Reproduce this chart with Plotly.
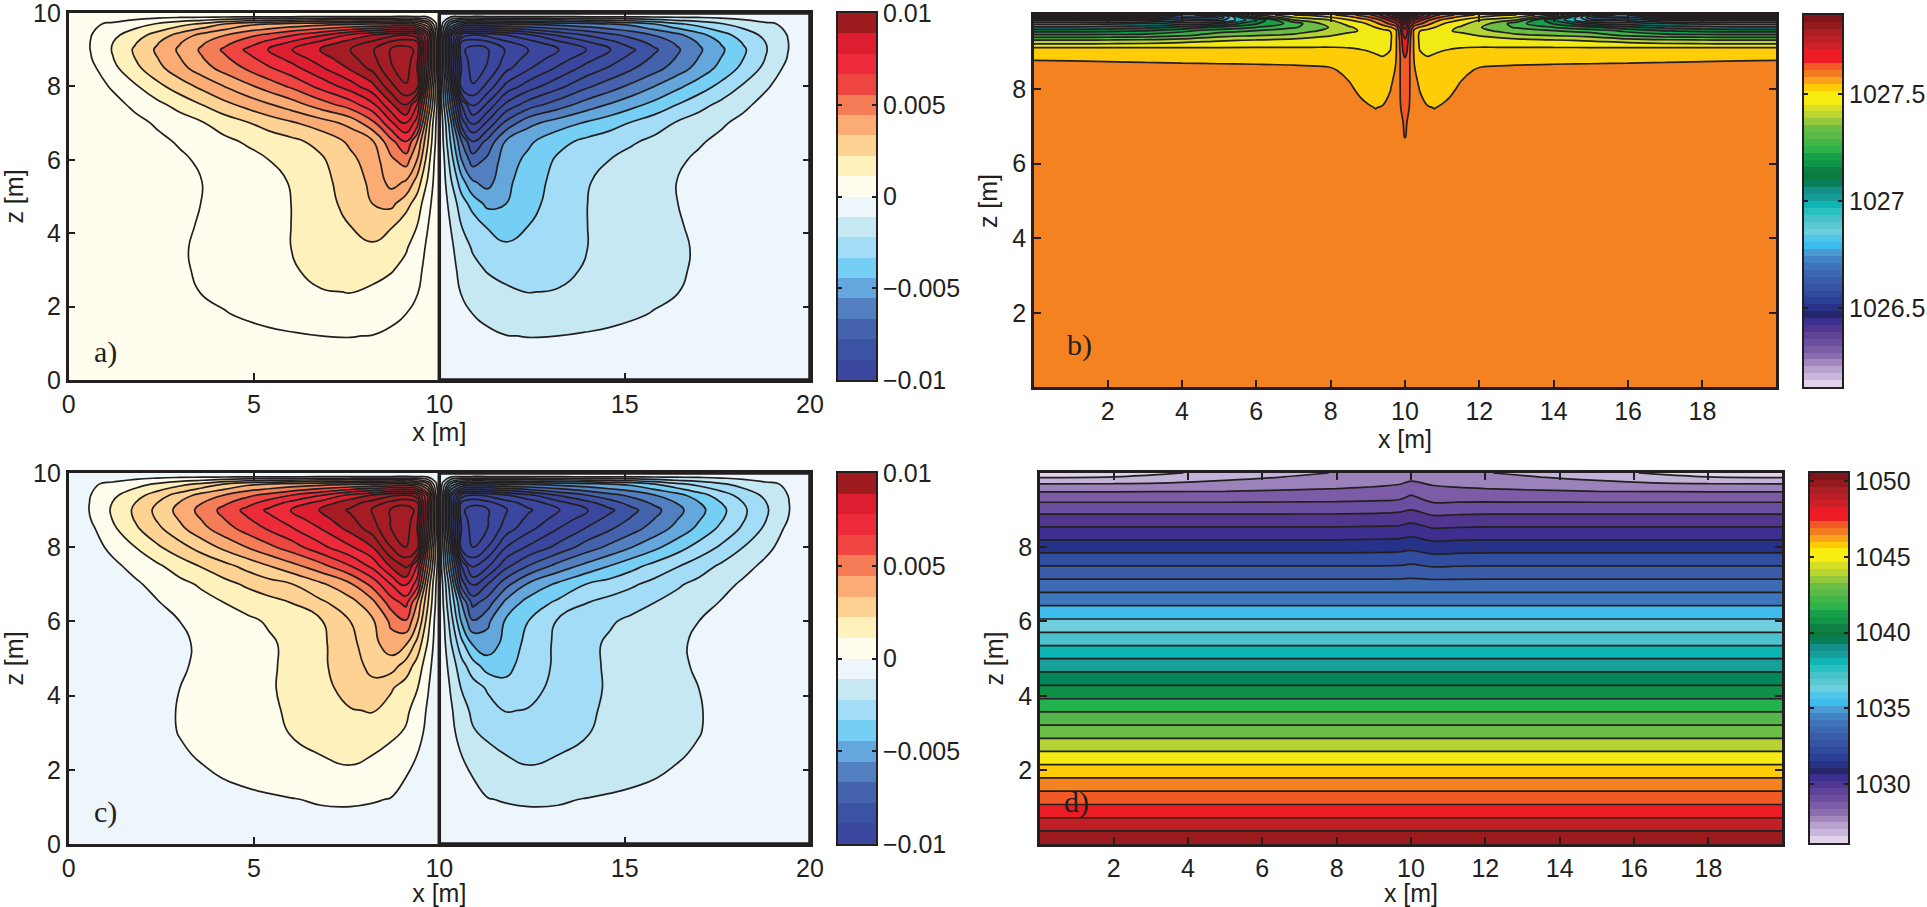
import numpy as np
import plotly.graph_objects as go

W, H = 1927, 907
INK = '#231F20'

# ---- panels a) and c): left half of the field, in contour-level units, rows run bottom to top
x_ac = [0, .6, 1.2, 1.8, 2.4, 3, 3.6, 4.2, 4.8, 5.4, 6, 6.8, 7.6, 8.2, 8.7, 9.1, 9.4, 9.7, 9.9, 9.99]
y_ac = [0, 1.2, 1.8, 2.4, 3, 3.6, 4.2, 4.8, 5.4, 6, 6.5, 7, 7.5, 8, 8.5, 8.75, 9, 9.2, 9.4, 9.7, 9.9, 10]

field_a = [
    [.02, .03, .05, .08, .12, .16, .2, .25, .3, .33, .37, .42, .43, .4, .35, .3, .22, .15, .08, .05],
    [.02, .05, .1, .17, .27, .38, .5, .62, .72, .82, .9, 1.0, 1.02, .98, .85, .7, .55, .35, .15, .1],
    [.02, .06, .13, .25, .42, .6, .8, .95, 1.12, 1.28, 1.42, 1.58, 1.62, 1.5, 1.2, 1.0, .75, .45, .2, .1],
    [.03, .07, .15, .3, .52, .8, 1.03, 1.2, 1.4, 1.6, 1.75, 1.95, 2.02, 1.85, 1.55, 1.25, 1.05, .65, .25, .1],
    [.03, .08, .17, .32, .58, .88, 1.12, 1.32, 1.52, 1.7, 1.9, 2.25, 2.45, 2.3, 2.08, 1.7, 1.2, .75, .3, .1],
    [.03, .08, .17, .32, .55, .9, 1.15, 1.35, 1.55, 1.78, 2.0, 2.4, 2.75, 2.85, 2.5, 2.1, 1.5, .8, .35, .1],
    [.03, .08, .17, .3, .5, .8, 1.1, 1.28, 1.47, 1.72, 2.0, 2.55, 3.0, 3.4, 3.1, 2.4, 2.0, 1.0, .4, .1],
    [.04, .09, .18, .3, .47, .72, 1.02, 1.2, 1.4, 1.65, 2.0, 2.6, 3.3, 4.0, 4.25, 3.4, 2.5, 1.3, .5, .1],
    [.04, .1, .2, .33, .5, .72, 1.0, 1.22, 1.45, 1.75, 2.05, 2.7, 3.45, 4.25, 5.35, 4.9, 3.6, 1.8, .6, .1],
    [.05, .12, .25, .42, .62, .85, 1.15, 1.42, 1.7, 2.0, 2.3, 2.85, 3.75, 4.5, 5.8, 6.5, 5.0, 2.4, .7, .1],
    [.05, .15, .32, .55, .8, 1.1, 1.45, 1.8, 2.1, 2.45, 2.75, 3.3, 4.2, 4.9, 6.7, 8.0, 6.0, 3.0, .95, .1],
    [.05, .2, .45, .75, 1.12, 1.5, 1.92, 2.4, 2.9, 3.4, 3.85, 4.5, 5.3, 6.7, 8.8, 10.1, 8.5, 3.6, 1.1, .1],
    [.08, .35, .7, 1.2, 1.75, 2.35, 3.0, 3.7, 4.3, 4.9, 5.5, 6.5, 7.5, 8.75, 10.8, 12.1, 10.0, 5.0, 1.6, .1],
    [.1, .55, 1.12, 1.88, 2.72, 3.5, 4.25, 5.0, 5.75, 6.45, 7.15, 8.3, 9.5, 10.7, 12.7, 13.9, 13.5, 6.0, 2.0, .1],
    [.1, .75, 1.75, 2.75, 3.7, 4.65, 5.55, 6.4, 7.12, 7.88, 8.6, 9.85, 11.15, 12.3, 13.9, 14.5, 13.0, 7.3, 2.5, .1],
    [.1, .95, 1.97, 3.0, 3.97, 4.95, 5.92, 6.78, 7.64, 8.47, 9.3, 10.5, 11.65, 12.7, 14.05, 14.5, 13.4, 7.4, 2.5, .1],
    [.1, 1.03, 2.08, 3.15, 4.17, 5.17, 6.17, 7.17, 8.15, 9.03, 9.95, 11.03, 12.0, 12.9, 14.1, 14.4, 13.8, 7.5, 2.5, .1],
    [.1, 1.03, 2.0, 2.92, 3.92, 4.92, 5.85, 6.67, 7.47, 8.3, 9.12, 10.25, 11.45, 12.2, 13.2, 13.6, 13.2, 7.5, 2.4, .1],
    [.1, .97, 1.75, 2.55, 3.4, 4.35, 5.3, 5.95, 6.65, 7.25, 7.9, 8.85, 10.2, 11.0, 11.7, 12.0, 11.3, 7.5, 2.2, .1],
    [.1, .85, 1.15, 1.6, 2.1, 2.65, 3.2, 4.0, 4.7, 5.0, 5.3, 5.6, 5.8, 6.0, 6.1, 6.1, 5.8, 4.0, 1.2, .1],
    [.05, .2, .45, .6, .72, .8, .82, .85, .87, .9, .93, 1.02, 1.02, 1.02, 1.02, 1.1, 1.02, .8, .4, .1],
    [.1, .1, .1, .1, .1, .1, .1, .1, .1, .1, .1, .1, .1, .1, .1, .1, .1, .1, .1, .1],
]

field_c = [
    [.1, .1, .12, .15, .18, .22, .26, .3, .34, .38, .42, .46, .47, .44, .38, .3, .25, .2, .15, .3],
    [.1, .06, .12, .2, .3, .42, .55, .67, .77, .87, .96, 1.08, 1.1, 1.05, .97, .75, .55, .35, .15, .3],
    [.1, .07, .16, .3, .48, .68, .88, 1.03, 1.2, 1.35, 1.5, 1.68, 1.78, 1.62, 1.3, 1.0, .75, .45, .2, .3],
    [.1, .09, .2, .38, .62, .9, 1.08, 1.27, 1.47, 1.65, 1.82, 2.0, 2.18, 2.0, 1.7, 1.3, 1.0, .65, .25, .3],
    [.1, .1, .25, .45, .78, 1.03, 1.25, 1.43, 1.62, 1.82, 2.03, 2.4, 2.62, 2.5, 2.2, 1.9, 1.25, .8, .3, .3],
    [.1, .1, .25, .45, .78, 1.05, 1.27, 1.47, 1.67, 1.88, 2.1, 2.55, 2.95, 3.05, 2.65, 2.2, 1.6, .85, .35, .3],
    [.1, .1, .22, .4, .68, 1.0, 1.22, 1.45, 1.67, 1.9, 2.2, 2.7, 3.35, 3.75, 3.1, 2.55, 2.05, 1.05, .4, .3],
    [.1, .1, .22, .38, .6, .9, 1.15, 1.38, 1.62, 1.87, 2.2, 2.8, 3.6, 4.25, 4.45, 3.55, 2.6, 1.35, .5, .3],
    [.1, .12, .25, .4, .62, .9, 1.1, 1.33, 1.6, 1.87, 2.2, 2.8, 3.7, 4.65, 5.6, 5.1, 3.7, 1.85, .6, .3],
    [.1, .15, .3, .5, .75, 1.0, 1.27, 1.55, 1.8, 2.1, 2.45, 2.9, 4.0, 4.85, 6.2, 6.9, 5.1, 2.4, .7, .3],
    [.1, .18, .4, .65, .95, 1.3, 1.65, 2.0, 2.33, 2.67, 3.0, 3.8, 4.6, 5.7, 7.5, 8.3, 6.0, 3.0, .95, .3],
    [.1, .22, .5, .85, 1.3, 1.72, 2.15, 2.67, 3.15, 3.57, 3.93, 4.8, 5.85, 7.33, 9.0, 10.2, 8.5, 3.6, 1.1, .3],
    [.1, .4, .8, 1.3, 1.85, 2.48, 3.1, 3.7, 4.33, 5.0, 5.67, 6.67, 8.0, 9.3, 11.2, 12.2, 10.0, 5.0, 1.6, .3],
    [.1, .6, 1.25, 2.0, 2.85, 3.62, 4.45, 5.25, 6.0, 6.75, 7.48, 8.7, 9.85, 11.0, 13.0, 14.0, 13.5, 6.0, 2.0, .3],
    [.1, .8, 1.82, 2.83, 3.77, 4.75, 5.7, 6.57, 7.38, 8.13, 8.88, 10.0, 11.33, 12.5, 14.0, 14.5, 13.0, 7.3, 2.5, .3],
    [.1, 1.0, 2.05, 3.08, 4.1, 5.08, 6.05, 6.98, 7.85, 8.67, 9.47, 10.6, 11.75, 12.85, 14.05, 14.5, 13.4, 7.4, 2.5, .3],
    [.1, 1.08, 2.15, 3.18, 4.27, 5.33, 6.33, 7.32, 8.27, 9.2, 10.07, 11.12, 12.15, 13.1, 14.1, 14.45, 13.8, 7.5, 2.5, .3],
    [.1, 1.06, 2.05, 3.0, 4.0, 5.05, 5.97, 6.8, 7.58, 8.45, 9.25, 10.35, 11.6, 12.4, 13.3, 13.7, 13.2, 7.5, 2.4, .3],
    [.1, 1.0, 1.8, 2.6, 3.5, 4.45, 5.4, 6.05, 6.75, 7.35, 8.0, 8.95, 10.3, 11.1, 11.8, 12.1, 11.4, 7.6, 2.3, .3],
    [.1, .88, 1.2, 1.65, 2.15, 2.7, 3.25, 4.05, 4.75, 5.05, 5.35, 5.65, 5.85, 6.05, 6.15, 6.15, 5.85, 4.1, 1.25, .3],
    [.08, .25, .5, .65, .75, .82, .85, .87, .88, .9, .93, 1.02, 1.02, 1.02, 1.02, 1.1, 1.02, .8, .4, .3],
    [.1, .1, .1, .1, .1, .1, .1, .1, .1, .1, .1, .1, .1, .1, .1, .1, .1, .1, .1, .1],
]

# ---- panel b): left half, level units counted from the orange/yellow line
x_b = [.02, 1, 2, 3, 4, 5, 6, 7, 7.5, 8, 8.5, 8.8, 9, 9.2, 9.4, 9.6, 9.75, 9.87, 9.95, 9.99]
y_b = [.02, 6, 6.7, 7.5, 8, 8.5, 8.85, 9.1, 9.3, 9.45, 9.55, 9.65, 9.75, 9.85, 9.92, 9.98]
field_b = [
    [.5, .5, .5, .5, .5, .5, .5, .5, .5, .5, .5, .5, .5, .5, .5, .5, .5, .5, .5, .5],
    [.5, .5, .5, .5, .5, .5, .5, .5, .5, .5, .5, .5, .5, .5, .5, .5, .5, .5, .55, .8],
    [.5, .5, .5, .5, .5, .5, .5, .5, .5, .5, .5, .5, .5, .5, .5, .5, .5, .55, .8, 1.0],
    [.5, .5, .5, .5, .5, .5, .5, .5, .5, .5, .5, .3, .1, -.02, .05, .3, .6, .95, 1.2, 1.25],
    [.45, .45, .45, .45, .45, .45, .45, .45, .45, .5, .2, -.25, -.4, -.45, -.35, -.05, .4, 1.0, 1.4, 1.5],
    [.3, .3, .3, .3, .3, .3, .3, .3, .25, .15, -.3, -.55, -.65, -.7, -.75, -.5, .1, 1.0, 1.6, 1.75],
    [-.1, -.12, -.15, -.2, -.25, -.3, -.35, -.45, -.5, -.55, -.65, -.75, -.8, -.85, -.95, -.75, -.1, 1.0, 1.8, 2.0],
    [-.95, -.95, -.95, -.95, -.95, -.95, -.95, -.95, -.95, -.95, -1.0, -1.05, -1.1, -1.25, -1.5, -1.1, -.2, 1.1, 2.2, 2.5],
    [-2.9, -2.9, -2.85, -2.75, -2.45, -2.1, -1.9, -1.65, -1.6, -1.55, -1.5, -1.45, -1.45, -1.5, -1.55, -1.2, -.2, 1.2, 2.6, 2.9],
    [-4.9, -4.9, -4.9, -4.8, -4.4, -3.5, -3.2, -2.9, -2.4, -2.1, -1.8, -1.65, -1.55, -1.5, -1.5, -1.2, -.3, 1.4, 3.0, 3.2],
    [-6.3, -6.3, -6.2, -5.9, -5.2, -4.4, -3.9, -3.5, -3.1, -2.7, -2.15, -1.95, -1.7, -1.5, -1.3, -1.0, -.3, 1.7, 3.4, 3.6],
    [-7.8, -7.8, -7.6, -7.3, -6.7, -5.8, -5.0, -4.1, -3.7, -2.9, -2.1, -1.8, -1.4, -1.0, -.6, -.1, .4, 2.2, 3.9, 4.3],
    [-9.3, -9.3, -9.2, -9.0, -8.5, -8, -6.1, -4.6, -3.4, -2.5, -1.7, -1.3, -.9, -.3, .4, 1.2, 1.8, 3.0, 4.5, 5.2],
    [-11.5, -11.5, -11.5, -11.5, -10.5, -10.5, -7, -3, -2.5, -1.95, -1, -.5, -.1, .5, 1.3, 2.4, 3.2, 4.3, 5.5, 6],
    [-14, -14, -14, -14, -12, -12, -4.5, -2, -1.5, -1, -.3, .4, .9, 1.5, 2.5, 3.5, 4.5, 5.5, 6.8, 7.3],
    [-19, -19, -19, -17, -13, -10, -3, -1, -.8, -.2, .6, 1.3, 1.8, 2.4, 3.5, 4.6, 5.8, 7.0, 8.5, 10],
]

# ---- panel d): whole width, values in the units of its colour bar
x_d = [.02, 2, 3.5, 5, 6.5, 8, 9.2, 9.7, 10, 10.6, 11.2, 12, 13.5, 15, 16.5, 18, 19.98]
y_d = [.02, .2, .55, .9, 1.26, 1.62, 1.97, 2.33, 2.68, 3.03, 3.39, 3.74, 4.1, 4.46, 4.82, 5.17, 5.52, 5.88, 6.24,
       6.6, 6.95, 7.31, 7.66, 8.01, 8.36, 8.71, 9.04, 9.35, 9.6, 9.78, 9.98]
rho_lower = [1050.9, 1050.5, 1049.5, 1048.5, 1047.5, 1046.5, 1045.5, 1044.5, 1043.5, 1042.5, 1041.5, 1040.5, 1039.5,
             1038.5, 1037.5, 1036.5, 1035.5, 1034.5, 1033.5, 1032.5, 1031.5]
rho_upper = [
    [1030.5, 1030.5, 1030.5, 1030.5, 1030.5, 1030.5, 1030.5, 1030.52, 1030.6, 1030.45, 1030.48, 1030.5, 1030.5, 1030.5, 1030.5, 1030.5, 1030.5],
    [1029.5, 1029.5, 1029.5, 1029.5, 1029.5, 1029.5, 1029.52, 1029.55, 1029.65, 1029.4, 1029.47, 1029.5, 1029.5, 1029.5, 1029.5, 1029.5, 1029.5],
    [1028.5, 1028.5, 1028.5, 1028.5, 1028.5, 1028.5, 1028.55, 1028.6, 1028.7, 1028.4, 1028.46, 1028.5, 1028.5, 1028.5, 1028.5, 1028.5, 1028.5],
    [1027.5, 1027.5, 1027.5, 1027.5, 1027.5, 1027.5, 1027.55, 1027.6, 1027.75, 1027.4, 1027.45, 1027.5, 1027.5, 1027.5, 1027.5, 1027.5, 1027.5],
    [1026.5, 1026.5, 1026.5, 1026.5, 1026.5, 1026.5, 1026.55, 1026.6, 1026.8, 1026.4, 1026.45, 1026.5, 1026.5, 1026.5, 1026.5, 1026.5, 1026.5],
    [1025.5, 1025.5, 1025.5, 1025.5, 1025.52, 1025.55, 1025.6, 1025.7, 1025.85, 1025.4, 1025.45, 1025.5, 1025.5, 1025.5, 1025.5, 1025.5, 1025.5],
    [1024.5, 1024.5, 1024.5, 1024.5, 1024.52, 1024.55, 1024.65, 1024.75, 1025.1, 1024.55, 1024.55, 1024.55, 1024.52, 1024.5, 1024.5, 1024.5, 1024.5],
    [1023.5, 1023.5, 1023.55, 1023.6, 1023.75, 1023.9, 1024.05, 1024.15, 1024.4, 1024.1, 1024.0, 1023.9, 1023.75, 1023.6, 1023.55, 1023.5, 1023.5],
    [1022.5, 1022.55, 1022.7, 1023.0, 1023.25, 1023.55, 1023.7, 1023.8, 1023.95, 1023.7, 1023.6, 1023.5, 1023.25, 1023.0, 1022.7, 1022.55, 1022.5],
    [1021.2, 1021.4, 1021.9, 1022.3, 1022.7, 1023.05, 1023.3, 1023.4, 1023.5, 1023.3, 1023.2, 1023.05, 1022.7, 1022.3, 1021.9, 1021.4, 1021.2],
]

# ---- fill colours, one per band between contour levels, low to high
bands_a = ['#3B469F', '#3B469F', '#3B469F', '#3B469F', '#3B469F', '#3B469F', '#3A4DA1', '#3E52A3', '#4563AC', '#517FC0',
           '#63A7DC', '#75CFF4', '#A2DCF7', '#C5E8F3', '#ECF6FB', '#FFFDEE', '#FFFDEE', '#FEF1BC', '#FDD292', '#FBAB74',
           '#FBAB74', '#F47C56', '#EF4540', '#ED2A3A', '#DC1E30', '#DC1E30', '#A51C24', '#A51C24', '#A51C24', '#A51C24']
bands_c = ['#3B469F', '#3B469F', '#3B469F', '#3B469F', '#3B469F', '#3B469F', '#3E52A3', '#4563AC', '#517FC0', '#63A7DC',
           '#75CFF4', '#A2DCF7', '#A2DCF7', '#C5E8F3', '#ECF6FB', '#FFFDEE', '#FEF1BC', '#FDD292', '#FDD292', '#FBAB74',
           '#F47C56', '#EF4540', '#ED2A3A', '#ED2A3A', '#DC1E30', '#A51C24', '#A51C24', '#A51C24', '#A51C24', '#A51C24']
bands_b = ['#5F4398', '#5F4398', '#5F4398', '#50368F', '#50368F', '#3B2F8F', '#3B2F8F', '#26276B', '#283388', '#2B3F96',
           '#304A9E', '#3A58A6', '#3B6EB5', '#4193D0', '#3EBCEA', '#4EC3CB', '#0FB6B6', '#14958A', '#0E7F3F', '#169E4B',
           '#3CB54A', '#6ABD45', '#B5D334', '#F2EA14', '#FFCC08', '#F58220', '#F15A24', '#ED1C24', '#C9202A', '#B71F29',
           '#A21E22', '#9B1B1E', '#8A1719', '#7F1416', '#7F1416', '#7F1416', '#7F1416']
bands_d = ['#E0D2E8', '#C4B3D9', '#9B82BA', '#7C5CA6', '#6A4FA0', '#50368F', '#3C2F8F', '#253287', '#304D9F', '#3A5BA8',
           '#3C6BB4', '#3C76BC', '#3EBCEE', '#70CDDD', '#4CC3CC', '#0DB4B4', '#16A099', '#008658', '#0E9147', '#21B24D',
           '#55B749', '#6ABD45', '#B5D334', '#F5EB14', '#FFCC08', '#F58220', '#F15A24', '#ED1C24', '#C01F26', '#9B1B1E']

# ---- colour bars, bottom to top
bar_div = ['#3B469F', '#3A53A3', '#4563AC', '#517FC0', '#63A7DC', '#75CFF4', '#A2DCF7', '#C5E8F3', '#ECF6FB',
           '#FFFDEE', '#FEF1BC', '#FDD292', '#FBAB74', '#F47C56', '#EF4540', '#ED2A3A', '#DC1E30', '#9E1B1F']
bar_rho = ['#E2D2E9', '#C9B6DC', '#B8A2CE', '#A487BC', '#8A6EB0', '#7B5CA6', '#6D4FA0', '#5F4398', '#4E3691', '#3B2F8F',
           '#26276B', '#283388', '#2B3F96', '#304A9E', '#3753A3', '#3A5DA9', '#3C68B1', '#3F74BA', '#4183C4', '#4A9AD4',
           '#3CBCEE', '#4FC5EA', '#6CCEDD', '#5CC8D0', '#47C2C8', '#28C1C0', '#0FB5B5', '#169C99', '#14908A', '#087F5B',
           '#0D7A40', '#0F8043', '#119549', '#16A04B', '#2FB24C', '#42B549', '#5BB947', '#6ABD45', '#94C83D', '#BCD631',
           '#D5DF27', '#F7ED10', '#F8ED0F', '#FFCB05', '#FAA31A', '#F47A20', '#F15A24', '#ED1C24', '#ED1C24', '#CE2027',
           '#BC2026', '#AA1F24', '#951A1D', '#7E1518']


def mirror_x(x):
    return list(x) + [20 - v for v in reversed(x)]


def band_scale(colors):
    n = len(colors) - 1
    return [[i / n, c] for i, c in enumerate(colors)]


def px_x(a, b):
    return [a / W, b / W]


def px_y(top, bottom):
    return [1 - bottom / H, 1 - top / H]


def contour(x, y, z, start, end, colors, xa, ya, smoothing=1.3):
    return go.Contour(x=x, y=y, z=z, xaxis=xa, yaxis=ya, showscale=False, colorscale=band_scale(colors),
                      autocontour=False, contours=dict(start=start, end=end, size=1, coloring='fill'),
                      line=dict(color=INK, width=1.7, smoothing=smoothing), hoverinfo='skip')


# left half positive, right half its mirror with the sign flipped
z_a = [row + [-v for v in reversed(row)] for row in field_a]
# in c the left half sits one level lower than the right half
z_c = [[v - 1 for v in row] + [-v for v in reversed(row)] for row in field_c]
z_b = [row + row[::-1] for row in field_b]
z_d = [[v] * len(x_d) for v in rho_lower] + rho_upper

fig = go.Figure()
fig.add_trace(contour(mirror_x(x_ac), y_ac, z_a, -14, 14, bands_a, 'x', 'y'))
fig.add_trace(contour(mirror_x(x_b), y_b, z_b, -24, 11, bands_b, 'x3', 'y3', smoothing=1.0))
fig.add_trace(contour(mirror_x(x_ac), y_ac, z_c, -14, 14, bands_c, 'x5', 'y5'))
fig.add_trace(contour(x_d, y_d, z_d, 1022, 1050, bands_d, 'x7', 'y7', smoothing=1.0))

# colour bars are one column heatmaps on their own axes
bars = [(bar_div, -.01, .01, 'x2', 'y2'), (bar_rho, 1026.13, 1027.87, 'x4', 'y4'),
        (bar_div, -.01, .01, 'x6', 'y6'), (bar_rho, 1026.1, 1050.55, 'x8', 'y8')]
for colors, lo, hi, xa, ya in bars:
    fig.add_trace(go.Heatmap(x=[0, 1], y=np.linspace(lo, hi, len(colors) + 1), z=[[i] for i in range(len(colors))],
                             colorscale=band_scale(colors), zmin=0, zmax=len(colors) - 1, showscale=False,
                             xaxis=xa, yaxis=ya, hoverinfo='skip'))

font = dict(family='Liberation Sans', size=25, color=INK)
panel = dict(showgrid=False, zeroline=False, ticks='inside', ticklen=7, tickwidth=1.5, tickcolor=INK, automargin=False,
             showline=True, linecolor=INK, linewidth=2.5, mirror='ticks', tickfont=font, ticklabeloverflow='allow')
bar_x = dict(showgrid=False, zeroline=False, showticklabels=False, ticks='', range=[0, 1], showline=True,
             linecolor=INK, linewidth=2, mirror=True)
bar_y = dict(showgrid=False, zeroline=False, side='right', ticks='inside', ticklen=4, tickwidth=1.5, tickcolor=INK,
             showline=True, linecolor=INK, linewidth=2, mirror='ticks', tickfont=font, automargin=False,
             ticklabeloverflow='allow')

div_ticks = dict(tickvals=[-.01, -.005, 0, .005, .01], ticktext=['\u22120.01', '\u22120.005', '0', '0.005', '0.01'])
xt20 = dict(range=[0, 20], tickvals=[0, 5, 10, 15, 20])
yt10 = dict(range=[0, 10], tickvals=[0, 2, 4, 6, 8, 10])
xt18 = dict(range=[.02, 19.98], tickvals=list(range(2, 20, 2)))
yt8 = dict(range=[.02, 9.98], tickvals=[2, 4, 6, 8])
xtitle = dict(text='x [m]', font=font, standoff=6)
ytitle = dict(text='z [m]', font=font, standoff=8)

fig.update_layout(
    width=W, height=H, margin=dict(l=0, r=0, t=0, b=0), autosize=False, showlegend=False,
    paper_bgcolor='white', plot_bgcolor='white', font=font,
    xaxis=dict(panel, domain=px_x(68.6, 810), anchor='y', title=xtitle, **xt20),
    yaxis=dict(panel, domain=px_y(13, 380), anchor='x', title=ytitle, **yt10),
    xaxis2=dict(bar_x, domain=px_x(838, 876), anchor='y2'),
    yaxis2=dict(bar_y, domain=px_y(13, 380), anchor='x2', range=[-.01, .01], **div_ticks),
    xaxis3=dict(panel, domain=px_x(1034, 1776), anchor='y3', title=xtitle, **xt18),
    yaxis3=dict(panel, domain=px_y(15, 387), anchor='x3', title=ytitle, **yt8),
    xaxis4=dict(bar_x, domain=px_x(1804, 1842), anchor='y4'),
    yaxis4=dict(bar_y, domain=px_y(15, 387), anchor='x4', range=[1026.13, 1027.87], tickvals=[1026.5, 1027, 1027.5],
                ticktext=['1026.5', '1027', '1027.5']),
    xaxis5=dict(panel, domain=px_x(68.6, 810), anchor='y5', title=xtitle, **xt20),
    yaxis5=dict(panel, domain=px_y(473, 844), anchor='x5', title=ytitle, **yt10),
    xaxis6=dict(bar_x, domain=px_x(838, 876), anchor='y6'),
    yaxis6=dict(bar_y, domain=px_y(473, 844), anchor='x6', range=[-.01, .01], **div_ticks),
    xaxis7=dict(panel, domain=px_x(1040, 1782), anchor='y7', title=xtitle, **xt18),
    yaxis7=dict(panel, domain=px_y(473, 844), anchor='x7', title=ytitle, **yt8),
    xaxis8=dict(bar_x, domain=px_x(1810, 1848), anchor='y8'),
    yaxis8=dict(bar_y, domain=px_y(473, 843), anchor='x8', range=[1026.1, 1050.55],
                tickvals=[1030, 1035, 1040, 1045, 1050], ticktext=['1030', '1035', '1040', '1045', '1050']),
)

# heavy frame around the right half of a) and c)
for xr, yr in [('x', 'y'), ('x5', 'y5')]:
    fig.add_shape(type='rect', x0=10, x1=20, y0=0, y1=10, xref=xr, yref=yr, line=dict(color=INK, width=3.5))

labels = [('a)', 'x', 'y', 1.0, .75), ('b)', 'x3', 'y3', 1.25, 1.15), ('c)', 'x5', 'y5', 1.0, .85), ('d)', 'x7', 'y7', 1.0, 1.15)]
for text, xr, yr, lx, ly in labels:
    fig.add_annotation(text=text, x=lx, y=ly, xref=xr, yref=yr, showarrow=False,
                       font=dict(family='Liberation Serif', size=30, color=INK))

fig.write_html("out.html", config={'displayModeBar': False}, post_script="document.body.style.margin='0';")
